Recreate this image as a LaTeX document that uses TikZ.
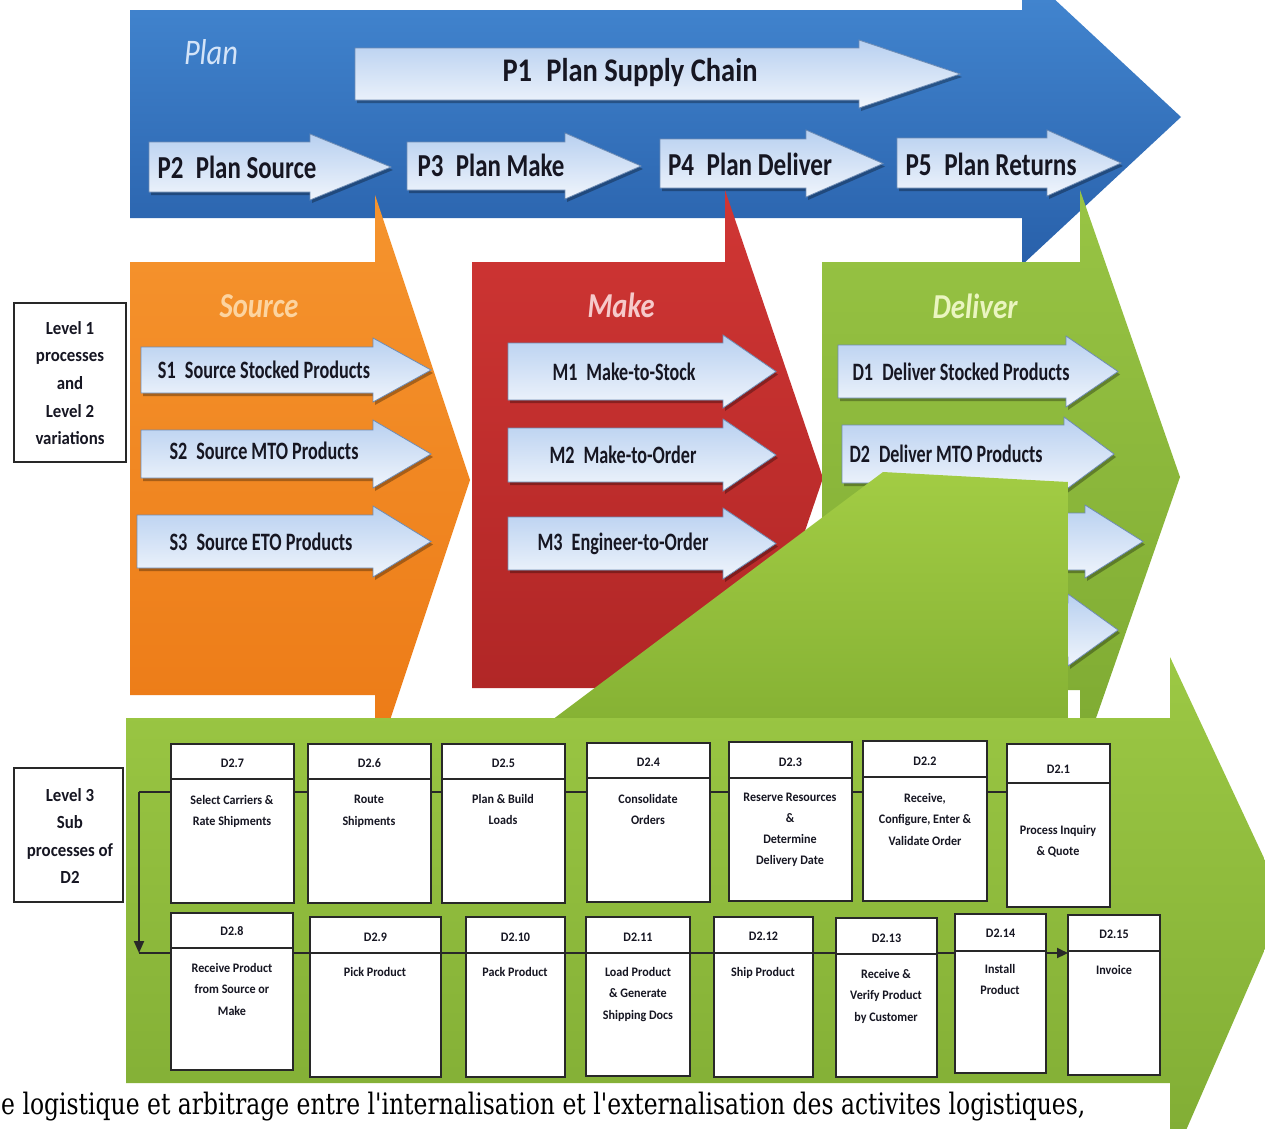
\documentclass[tikz,border=0pt]{standalone}
\usepackage{fontspec}
\usepackage{graphicx}
\setmainfont{Carlito}
\newfontfamily\capfont{DejaVu Serif}
\newfontfamily\cfn[FakeStretch=0.91]{Carlito}
\newfontfamily\cfb[FakeStretch=0.93]{Carlito}
\usetikzlibrary{arrows.meta,fit}
\definecolor{blueT}{RGB}{68,136,210}
\definecolor{blueB}{RGB}{40,96,170}
\definecolor{orT}{RGB}{245,148,46}
\definecolor{orB}{RGB}{236,122,22}
\definecolor{redT}{RGB}{208,54,52}
\definecolor{redB}{RGB}{172,36,36}
\definecolor{grT}{RGB}{152,196,68}
\definecolor{grB}{RGB}{126,170,50}
\definecolor{wgT}{RGB}{162,204,68}
\definecolor{wgB}{RGB}{134,178,52}
\definecolor{l3T}{RGB}{156,200,68}
\definecolor{l3B}{RGB}{128,172,52}
\definecolor{lbT}{RGB}{184,208,240}
\definecolor{lbB}{RGB}{240,245,252}
\definecolor{lbD}{RGB}{110,140,180}
\definecolor{txt}{RGB}{22,22,34}
\definecolor{boxc}{RGB}{40,40,40}
\definecolor{planc}{RGB}{212,228,248}
\definecolor{sourcec}{RGB}{252,212,160}
\definecolor{makec}{RGB}{246,202,202}
\definecolor{deliverc}{RGB}{234,245,192}
\newcommand\fitw[2]{\resizebox{#1pt}{\height}{#2}}
\newcommand\larrow[6]{%
  \fill[lshadow,xshift=2pt,yshift=-3pt] (#1,#2) -- (#4,#2) -- (#4,#2-#5) -- (#6,{(#2+#3)/2}) -- (#4,#3+#5) -- (#4,#3) -- (#1,#3) -- cycle;
  \shade[larr] (#1,#2) -- (#4,#2) -- (#4,#2-#5) -- (#6,{(#2+#3)/2}) -- (#4,#3+#5) -- (#4,#3) -- (#1,#3) -- cycle;
}
\newcommand\subbox[8]{%
  \node[wbox, fit={(#2,#3) (#4,#5)}] (#1) {};
  \draw[hdr] (#1.west |- 0,#6) -- (#1.east |- 0,#6);
  \node[htext] (#1h) at ({(#2+#4)/2},#7) {#8};
}
\tikzset{
  lshadow/.style={fill=black,opacity=.3},
  larr/.style={top color=lbT,bottom color=lbB,draw=lbD,line width=.8pt},
  ptext/.style={font=\bfseries\fontsize{33}{33}\selectfont, text=txt, inner sep=0},
  stext/.style={font=\bfseries\fontsize{25}{25}\selectfont, text=txt, inner sep=0},
  title/.style={font=\bfseries\itshape\fontsize{35}{35}\selectfont, inner sep=0},
  lbox/.style={draw=boxc, line width=1.2pt, fill=white, inner sep=0},
  ltext/.style={font=\cfn\bfseries\fontsize{18.5}{27.6}\selectfont, align=center, inner sep=0, text=txt},
  wbox/.style={draw=boxc, line width=2pt, fill=white, inner sep=0},
  hdr/.style={draw=boxc, line width=2pt},
  htext/.style={font=\cfb\bfseries\fontsize{13}{13}\selectfont, inner sep=0, text=txt},
  btext/.style={font=\cfb\bfseries\fontsize{13}{21.5}\selectfont, align=center, inner sep=0, text=txt},
  flow/.style={draw=boxc, line width=2pt},
}
\begin{document}
\begin{tikzpicture}[x=1pt,y=-1pt]
\useasboundingbox (0,0) rectangle (1265,1128);
\fill[white] (0,0) rectangle (1265,1128);
\clip (0,0) rectangle (1265,1128);

% ---- Plan (blue) ----
\shade[top color=blueT,bottom color=blueB] (130,10) -- (1022,10) -- (1022,-31) -- (1181,117) -- (1022,265) -- (1022,218) -- (130,218) -- cycle;
\node[font=\itshape\fontsize{36}{36}\selectfont, text=planc, inner sep=0] (plan) at (211,52) {\fitw{54}{Plan}};
\larrow{355}{48}{100}{859}{8}{960}
\larrow{149}{142}{192}{310}{8}{391}
\larrow{407}{142}{190}{565}{9}{641}
\larrow{660}{139}{188}{806}{9}{883}
\larrow{897}{138}{188}{1047}{8}{1121}
\node[ptext] (p1) at (630,73) {\fitw{255}{P1\enspace Plan Supply Chain}};
\node[ptext,font=\bfseries\fontsize{32}{32}\selectfont] (p2) at (237,167) {\fitw{159}{P2\enspace Plan Source}};
\node[ptext,font=\bfseries\fontsize{32}{32}\selectfont] (p3) at (491,165) {\fitw{147}{P3\enspace Plan Make}};
\node[ptext,font=\bfseries\fontsize{32}{32}\selectfont] (p4) at (750,164) {\fitw{164}{P4\enspace Plan Deliver}};
\node[ptext,font=\bfseries\fontsize{32}{32}\selectfont] (p5) at (991,164) {\fitw{171}{P5\enspace Plan Returns}};

% ---- Source / Make / Deliver ----
\shade[top color=orT,bottom color=orB] (130,262) -- (375,262) -- (375,195) -- (470,480) -- (375,765) -- (375,695) -- (130,695) -- cycle;
\shade[top color=redT,bottom color=redB] (472,262) -- (725,262) -- (725,190) -- (823,478) -- (725,766) -- (725,688) -- (472,688) -- cycle;
\shade[top color=grT,bottom color=grB] (822,262) -- (1080,262) -- (1080,190) -- (1180,477) -- (1080,764) -- (1080,690) -- (822,690) -- cycle;
\node[title, text=sourcec] (source) at (259,306) {\fitw{79}{Source}};
\node[title, text=makec] (make) at (621,305) {\fitw{67}{Make}};
\node[title, text=deliverc] (deliver) at (975,306) {\fitw{85}{Deliver}};

\larrow{141}{347}{393}{373}{9}{431}
\larrow{141}{430}{478}{373}{10}{431}
\larrow{137}{515}{568}{373}{9}{431}
\larrow{508}{343}{400}{723}{8}{776}
\larrow{508}{428}{482}{723}{9}{776}
\larrow{508}{517}{570}{723}{9}{776}
\larrow{838}{345}{398}{1066}{9}{1118}
\larrow{842}{425}{483}{1064}{8}{1114}
\larrow{842}{513}{570}{1085}{8}{1143}
\larrow{842}{603}{657}{1068}{9}{1118}
\node[stext] (s1) at (264,370) {\fitw{212}{S1\enspace Source Stocked Products}};
\node[stext] (s2) at (264,451) {\fitw{189}{S2\enspace Source MTO Products}};
\node[stext] (s3) at (261,542) {\fitw{183}{S3\enspace Source ETO Products}};
\node[stext] (m1) at (624,372) {\fitw{143}{M1\enspace Make-to-Stock}};
\node[stext] (m2) at (623,455) {\fitw{147}{M2\enspace Make-to-Order}};
\node[stext] (m3) at (623,544) {\fitw{171}{M3\enspace Engineer-to-Order}};
\node[stext] (d1) at (961,372) {\fitw{217}{D1\enspace Deliver Stocked Products}};
\node[stext] (d2) at (946,454) {\fitw{193}{D2\enspace Deliver MTO Products}};

% ---- zoom wedge ----
\shade[top color=wgT,bottom color=wgB] (552,720) -- (883,472) -- (1068,482) -- (1068,720) -- cycle;

% ---- Level 3 arrow ----
\shade[top color=l3T,bottom color=l3B] (126,718) -- (1170,718) -- (1170,657) -- (1285,903) -- (1170,1167) -- (1170,1083) -- (126,1083) -- cycle;

% ---- left labels ----
\node[lbox, fit={(14,303) (126,462)}] (l1box) {};
\node[ltext] (l1t) at (70,383) {Level 1\\processes\\and\\Level 2\\variations};
\node[lbox, fit={(14,768) (123,902)}] (l3box) {};
\node[ltext] (l3t) at (70,836) {Level 3\\Sub\\processes of\\D2};

% ---- flow ----
\coordinate (c1) at (139,792);
\coordinate (c2) at (139,953);
\coordinate (cs) at (1007,792);
\coordinate (ce) at (1068,953);
\draw[flow] (cs) -- (c1);
\draw[flow,-{Triangle[length=12pt,width=10pt]}] (c1) -- (c2);
\draw[flow,-{Triangle[length=11pt,width=10pt]}] (c2) -- (ce);

% ---- level 3 boxes ----
\subbox{d27}{171}{744}{294}{903}{779}{763}{D2.7}
\subbox{d26}{308}{744}{431}{903}{779}{763}{D2.6}
\subbox{d25}{442}{744}{565}{903}{779}{763}{D2.5}
\subbox{d24}{587}{743}{710}{902}{778}{762}{D2.4}
\subbox{d23}{729}{742}{852}{901}{778}{762}{D2.3}
\subbox{d22}{863}{741}{987}{901}{777}{761}{D2.2}
\subbox{d21}{1007}{744}{1110}{907}{783}{769}{D2.1}
\subbox{d28}{171}{913}{293}{1070}{948}{931}{D2.8}
\subbox{d29}{310}{917}{441}{1077}{953}{937}{D2.9}
\subbox{d210}{466}{917}{565}{1077}{953}{937}{D2.10}
\subbox{d211}{586}{917}{690}{1076}{953}{937}{D2.11}
\subbox{d212}{714}{917}{813}{1077}{953}{936}{D2.12}
\subbox{d213}{836}{918}{937}{1077}{954}{938}{D2.13}
\subbox{d214}{955}{914}{1046}{1073}{951}{933}{D2.14}
\subbox{d215}{1068}{915}{1160}{1075}{951}{934}{D2.15}

\node[btext, anchor=north] (d27t) at (232,795) {Select Carriers \&\\Rate Shipments};
\node[btext, anchor=north] (d26t) at (369,795) {Route\\Shipments};
\node[btext, anchor=north] (d25t) at (503,794) {Plan \& Build\\Loads};
\node[btext, anchor=north] (d24t) at (648,794) {Consolidate\\Orders};
\node[btext, anchor=north, font=\cfb\bfseries\fontsize{13}{21}\selectfont] (d23t) at (790,793) {Reserve Resources\\\&\\Determine\\Delivery Date};
\node[btext, anchor=north] (d22t) at (925,793) {Receive,\\Configure, Enter \&\\Validate Order};
\node[btext] (d21t) at (1058,841) {Process Inquiry\\\& Quote};
\node[btext, anchor=north] (d28t) at (232,963) {Receive Product\\from Source or\\Make};
\node[btext, anchor=north] (d29t) at (375,967) {Pick Product};
\node[btext, anchor=north] (d210t) at (515,967) {Pack Product};
\node[btext, anchor=north] (d211t) at (638,967) {Load Product\\\& Generate\\Shipping Docs};
\node[btext, anchor=north] (d212t) at (763,967) {Ship Product};
\node[btext, anchor=north] (d213t) at (886,969) {Receive \&\\Verify Product\\by Customer};
\node[btext, anchor=north] (d214t) at (1000,964) {Install\\Product};
\node[btext, anchor=north] (d215t) at (1114,965) {Invoice};

% ---- caption ----
\node[anchor=south west, inner sep=0, text=black] (cap) at (1,1121) {\resizebox*{1084pt}{29pt}{\capfont e logistique et arbitrage entre l\textquotesingle internalisation et l\textquotesingle externalisation des activites logistiques,}};
\end{tikzpicture}
\end{document}
